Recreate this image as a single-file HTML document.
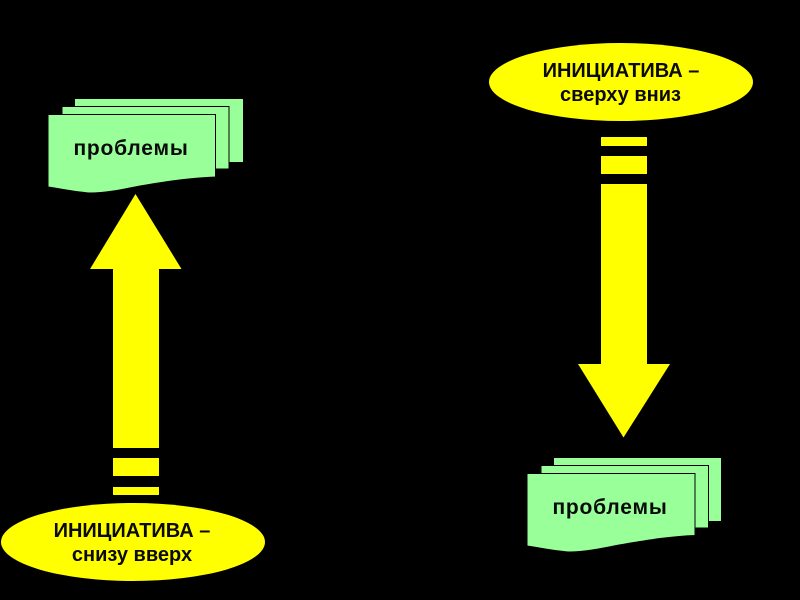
<!DOCTYPE html>
<html>
<head>
<meta charset="utf-8">
<style>
html,body{margin:0;padding:0;background:#000;}
svg{display:block;}
text{font-family:"Liberation Sans",Arial,sans-serif;font-weight:bold;font-size:20px;fill:#0a0a0a;text-anchor:middle;}
text.p{font-size:21px;letter-spacing:0.8px;}
</style>
</head>
<body>
<svg width="800" height="600" viewBox="0 0 800 600" xmlns="http://www.w3.org/2000/svg">
<rect width="800" height="600" fill="#000"/>
<!-- left stack -->
<g fill="#99ff99">
<rect x="75" y="99" width="168" height="63"/>
<rect x="62" y="106.500" width="167" height="62.500" stroke="#000" stroke-width="1"/>
<path d="M48 114.500H215.500V177C190 178 170 181 140 186C120 190 105 193 90 193C75 192 62 189 48 187Z" stroke="#000" stroke-width="1"/>
</g>
<text class="p" x="131" y="155">проблемы</text>
<!-- right stack -->
<g fill="#99ff99">
<rect x="554" y="458" width="167" height="63"/>
<rect x="541" y="465.500" width="167.500" height="62.500" stroke="#000" stroke-width="1"/>
<path d="M527 473.500H695V535.500C669 536.500 649 540 619 545C599 549 584 552 569 552C554 551 541 548 527 546Z" stroke="#000" stroke-width="1"/>
</g>
<text class="p" x="610" y="514">проблемы</text>
<!-- up arrow -->
<g fill="#ffff00">
<polygon points="135.500,194 181.500,269 159,269 159,448 113,448 113,269 90,269"/>
<rect x="113" y="458" width="46" height="18"/>
<rect x="113" y="487" width="46" height="8"/>
<ellipse cx="133" cy="542" rx="132" ry="39"/>
</g>
<text x="132" y="537">ИНИЦИАТИВА –</text>
<text x="132" y="561">снизу вверх</text>
<!-- down arrow -->
<g fill="#ffff00">
<ellipse cx="621" cy="82" rx="132" ry="39"/>
<rect x="601" y="137" width="46" height="9"/>
<rect x="601" y="156" width="46" height="18"/>
<polygon points="601,184 647,184 647,364 670,364 623.500,437.500 578,364 601,364"/>
</g>
<text x="621" y="77">ИНИЦИАТИВА –</text>
<text x="620.500" y="101">сверху вниз</text>
</svg>
</body>
</html>
